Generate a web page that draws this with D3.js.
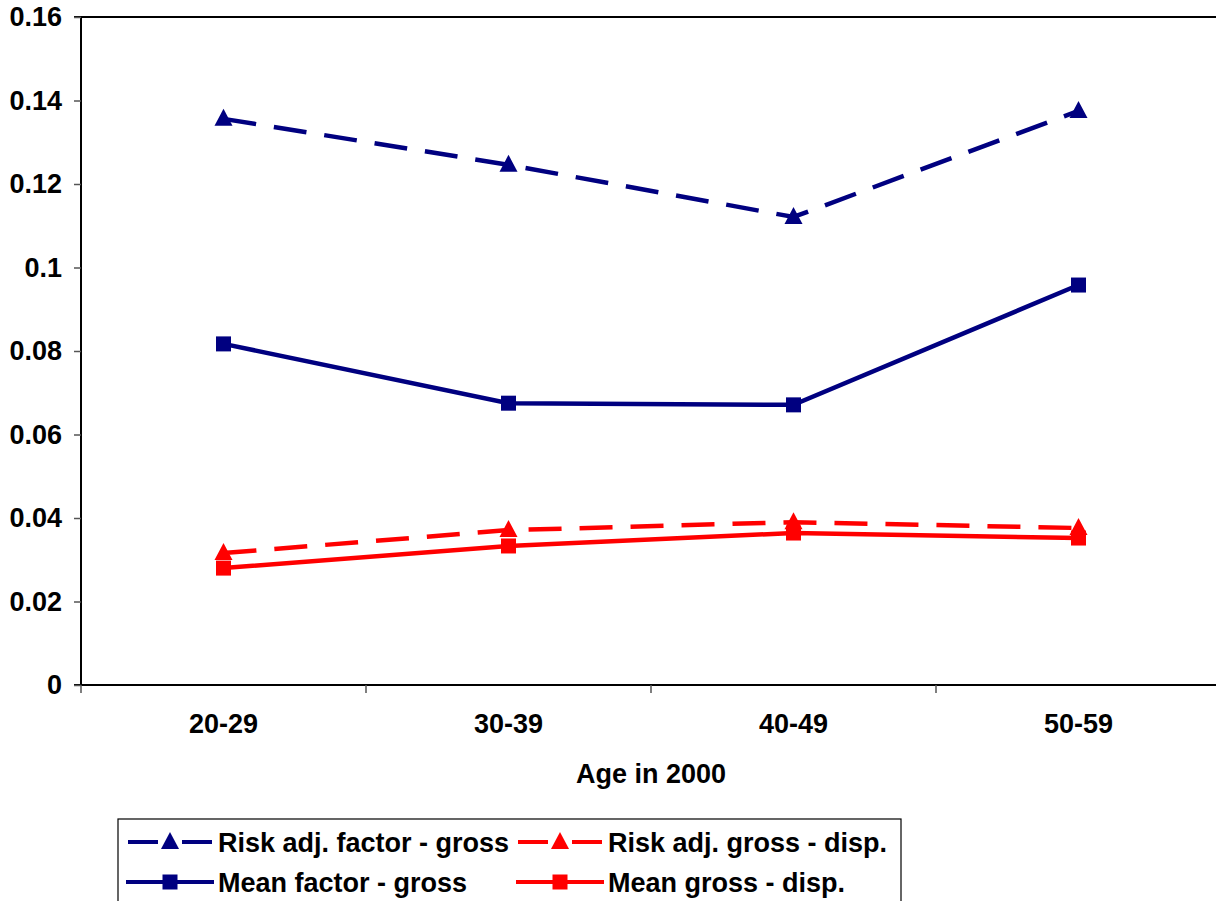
<!DOCTYPE html>
<html>
<head>
<meta charset="utf-8">
<script src="https://cdn.jsdelivr.net/npm/d3@7"></script>
<style>
html,body{margin:0;padding:0;background:#fff;overflow:hidden;}
text{font-family:"Liberation Sans",Arial,sans-serif;font-weight:bold;}
</style>
</head>
<body>
<svg id="chart" width="1216" height="901"></svg>
<script>
const categories = ["20-29", "30-39", "40-49", "50-59"];
const riskAdjFactorGross = [0.1356, 0.1246, 0.1121, 0.1375];
const meanFactorGross = [0.0817, 0.0675, 0.0671, 0.0958];
const riskAdjGrossDisp = [0.0316, 0.0371, 0.0390, 0.0376];
const meanGrossDisp = [0.0280, 0.0333, 0.0364, 0.0352];
const yTicks = [0, 0.02, 0.04, 0.06, 0.08, 0.1, 0.12, 0.14, 0.16];

const series = [
  {name: "Risk adj. factor - gross", values: riskAdjFactorGross, color: "#000080", dashed: true, marker: "triangle"},
  {name: "Mean factor - gross", values: meanFactorGross, color: "#000080", dashed: false, marker: "square"},
  {name: "Risk adj. gross - disp.", values: riskAdjGrossDisp, color: "#FF0000", dashed: true, marker: "triangle"},
  {name: "Mean gross - disp.", values: meanGrossDisp, color: "#FF0000", dashed: false, marker: "square"}
];

const FS = 27;
const svg = d3.select("#chart");
const L = 81, R = 1221, T = 17, B = 685;

const x = d3.scaleBand().domain(categories).range([L, R]);
const y = d3.scaleLinear().domain([0, 0.16]).range([B, T]);

// top border
svg.append("line").attr("x1", L).attr("x2", R).attr("y1", T).attr("y2", T)
  .attr("stroke", "#000").attr("stroke-width", 2);

// y axis
const yAxis = d3.axisLeft(y).tickValues(yTicks).tickSize(7).tickPadding(12)
  .tickFormat(d => d === 0 ? "0" : String(+d.toFixed(2)));
const gy = svg.append("g").attr("transform", `translate(${L},0)`).call(yAxis);
gy.select(".domain").attr("stroke", "#000").attr("stroke-width", 2).attr("d", `M-7,${T}H0V${B}H-7`);
gy.selectAll(".tick line").attr("stroke", "#555").attr("stroke-width", 1.5);
gy.selectAll(".tick text").attr("font-size", FS).attr("fill", "#000")
  .attr("font-family", "Liberation Sans, Arial, sans-serif").attr("font-weight", "bold");

// x axis
const gx = svg.append("g").attr("transform", `translate(0,${B})`)
  .call(d3.axisBottom(x).tickSize(0).tickPadding(29));
gx.select(".domain").attr("stroke", "#000").attr("stroke-width", 2).attr("d", `M${L},0H${R}`);
gx.selectAll(".tick text").attr("font-size", FS).attr("fill", "#000")
  .attr("font-family", "Liberation Sans, Arial, sans-serif").attr("font-weight", "bold");
// category boundary ticks
const bounds = categories.map(c => x(c)).concat([R]);
svg.append("g").selectAll("line").data(bounds).join("line")
  .attr("x1", d => d).attr("x2", d => d).attr("y1", B).attr("y2", B + 8)
  .attr("stroke", "#555").attr("stroke-width", 1.5);

// axis title
svg.append("text").attr("x", (L + R) / 2).attr("y", 773).attr("dy", "0.36em").attr("text-anchor", "middle")
  .attr("font-size", FS).text("Age in 2000");

const cx = c => x(c) + x.bandwidth() / 2;
const line = d3.line().x((d, i) => cx(categories[i])).y(d => y(d));

function drawMarker(g, type, px, py, color) {
  if (type === "triangle") {
    g.append("path").attr("d", `M${px},${py - 10}L${px + 9},${py + 7}L${px - 9},${py + 7}Z`).attr("fill", color);
  } else {
    g.append("rect").attr("x", px - 7.5).attr("y", py - 7.5).attr("width", 15).attr("height", 15).attr("fill", color);
  }
}

series.forEach(s => {
  svg.append("path").datum(s.values).attr("d", line).attr("fill", "none")
    .attr("stroke", s.color).attr("stroke-width", 4.5)
    .attr("stroke-dasharray", s.dashed ? "33,18" : null);
  const g = svg.append("g");
  s.values.forEach((v, i) => drawMarker(g, s.marker, cx(categories[i]), y(v), s.color));
});

// legend
svg.append("rect").attr("x", 118).attr("y", 819).attr("width", 783).attr("height", 120)
  .attr("fill", "none").attr("stroke", "#000").attr("stroke-width", 1.2);
const legPos = [
  {x: 128, y: 842}, {x: 126, y: 882}, {x: 518, y: 842}, {x: 516, y: 882}
];
series.forEach((s, i) => {
  const p = legPos[i];
  const g = svg.append("g");
  if (s.dashed) {
    g.append("line").attr("x1", p.x).attr("x2", p.x + 30).attr("y1", p.y).attr("y2", p.y).attr("stroke", s.color).attr("stroke-width", 4);
    g.append("line").attr("x1", p.x + 54).attr("x2", p.x + 84).attr("y1", p.y).attr("y2", p.y).attr("stroke", s.color).attr("stroke-width", 4);
  } else {
    g.append("line").attr("x1", p.x).attr("x2", p.x + 88).attr("y1", p.y).attr("y2", p.y).attr("stroke", s.color).attr("stroke-width", 4);
  }
  drawMarker(g, s.marker, s.dashed ? p.x + 42 : p.x + 44, p.y, s.color);
  g.append("text").attr("x", s.dashed ? p.x + 90 : p.x + 92).attr("y", p.y).attr("dy", "0.36em")
    .attr("font-size", FS).text(s.name);
});
</script>
</body>
</html>
